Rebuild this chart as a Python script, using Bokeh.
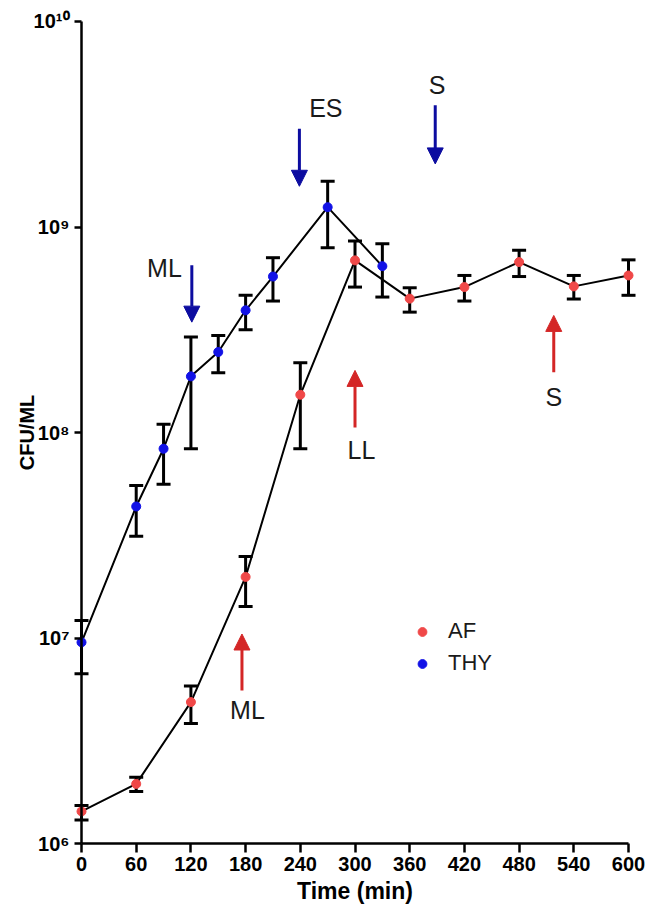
from bokeh.plotting import figure
from bokeh.models import (ColumnDataSource, Whisker, TeeHead, Arrow, NormalHead,
                          FixedTicker, Range1d, Legend, LegendItem, CustomJSTickFormatter)
from bokeh.core.properties import value
from bokeh.embed import file_html
from bokeh.resources import INLINE

# ---------------- data ----------------
time_thy = [0, 60, 90, 120, 150, 180, 210, 270, 330]
cfu_thy = [9.57e6, 4.38e7, 8.36e7, 1.88e8, 2.47e8, 3.94e8, 5.75e8, 1.25e9, 6.46e8]
upper_thy = [1.22e7, 5.54e7, 1.10e8, 2.92e8, 2.97e8, 4.66e8, 7.10e8, 1.67e9, 8.30e8]
lower_thy = [6.73e6, 3.14e7, 5.61e7, 8.36e7, 1.96e8, 3.17e8, 4.37e8, 7.94e8, 4.57e8]

time_af = [0, 60, 120, 180, 240, 300, 360, 420, 480, 540, 600]
cfu_af = [1.44e6, 1.96e6, 4.90e6, 1.99e7, 1.53e8, 6.89e8, 4.49e8, 5.11e8, 6.76e8, 5.15e8, 5.82e8]
upper_af = [1.54e6, 2.11e6, 5.86e6, 2.50e7, 2.19e8, 8.55e8, 5.07e8, 5.82e8, 7.71e8, 5.82e8, 6.93e8]
lower_af = [1.31e6, 1.80e6, 3.85e6, 1.43e7, 8.36e7, 5.11e8, 3.86e8, 4.37e8, 5.75e8, 4.47e8, 4.66e8]

x_ticks = [0, 60, 120, 180, 240, 300, 360, 420, 480, 540, 600]
y_ticks = [1e6, 1e7, 1e8, 1e9, 1e10]
y_tick_labels = ["10\u2076", "10\u2077", "10\u2078", "10\u2079", "10\u00b9\u2070"]

# growth-phase markers
thy_phase_names = ["ML", "ES", "S"]
thy_phase_time = [121, 239, 388]
af_phase_names = ["ML", "LL", "S"]
af_phase_time = [176, 300, 518]

# annotation geometry (arrow tails/tips and label anchors in data units)
thy_arrow_from = [6.52e8, 3.01e9, 3.91e9]
thy_arrow_to = [3.45e8, 1.58e9, 2.03e9]
thy_label_x = [91, 268, 390]
thy_label_y = [6.3e8, 3.78e9, 4.89e9]
af_arrow_from = [5.58e6, 1.06e8, 1.97e8]
af_arrow_to = [1.05e7, 2.01e8, 3.72e8]
af_label_x = [182, 307, 518]
af_label_y = [4.5e6, 8.2e7, 1.49e8]

RED = "#f04848"
BLUE = "#1212e6"
RED_ARROW = "#d42626"
BLUE_ARROW = "#0c0ca0"
FONT = "Liberation Sans"

# frame covers almost the whole canvas; both axes are pinned to t=0 / 1e6
p = figure(width=658, height=908, y_axis_type="log",
           x_range=Range1d(-75.7, 632.9), y_range=Range1d(10 ** 5.696, 10 ** 10.0632),
           output_backend="svg", toolbar_location=None,
           min_border_left=12, min_border_right=0,
           min_border_top=8, min_border_bottom=2)
p.grid.visible = False
p.outline_line_color = None
p.background_fill_color = "white"
p.border_fill_color = "white"

# axes
p.xaxis.ticker = FixedTicker(ticks=x_ticks)
p.xaxis.bounds = (0, 600)
p.xaxis.fixed_location = 1e6
p.yaxis.ticker = FixedTicker(ticks=y_ticks)
p.yaxis.bounds = (1e6, 1e10)
p.yaxis.fixed_location = 0
p.yaxis.formatter = CustomJSTickFormatter(
    args=dict(tick_values=y_ticks, tick_texts=y_tick_labels),
    code="""
for (let i = 0; i < tick_values.length; i++) {
  if (Math.abs(Math.log10(tick) - Math.log10(tick_values[i])) < 1e-6) { return tick_texts[i]; }
}
return "";
""")

for ax in (p.xaxis, p.yaxis):
    ax.axis_line_width = 2.5
    ax.axis_line_color = "black"
    ax.major_tick_line_width = 2.5
    ax.major_tick_line_color = "black"
    ax.major_tick_in = 0
    ax.minor_tick_line_color = None
    ax.major_label_text_font = FONT
    ax.major_label_text_font_style = "bold"
    ax.major_label_text_font_size = "20px"
    ax.major_label_text_color = "black"
    ax.axis_label_text_font = FONT
    ax.axis_label_text_font_style = "bold"
    ax.axis_label_text_color = "black"

p.xaxis.major_tick_out = 9
p.xaxis.major_label_standoff = 4
p.xaxis.axis_label = "Time (min)"
p.xaxis.axis_label_text_font_size = "23px"
p.xaxis.axis_label_standoff = 4

p.yaxis.major_tick_out = 7
p.yaxis.major_label_standoff = 5
p.yaxis.axis_label = "CFU/ML"
p.yaxis.axis_label_text_font_size = "20px"
p.yaxis.axis_label_standoff = -7

src_thy = ColumnDataSource(dict(x=time_thy, y=cfu_thy, upper=upper_thy, lower=lower_thy))
src_af = ColumnDataSource(dict(x=time_af, y=cfu_af, upper=upper_af, lower=lower_af))

for src in (src_thy, src_af):
    w = Whisker(base="x", upper="upper", lower="lower", source=src, dimension="height",
                line_width=3, line_color="black",
                upper_head=TeeHead(size=14, line_width=3, line_color="black"),
                lower_head=TeeHead(size=14, line_width=3, line_color="black"))
    p.add_layout(w)

p.line("x", "y", source=src_thy, line_color="black", line_width=2)
p.line("x", "y", source=src_af, line_color="black", line_width=2)
r_thy = p.scatter("x", "y", source=src_thy, size=9, fill_color=BLUE, line_color=BLUE)
r_af = p.scatter("x", "y", source=src_af, size=9, fill_color=RED, line_color=RED)

# phase arrows
for xs, y0s, y1s, col in ((thy_phase_time, thy_arrow_from, thy_arrow_to, BLUE_ARROW),
                          (af_phase_time, af_arrow_from, af_arrow_to, RED_ARROW)):
    for x, y0, y1 in zip(xs, y0s, y1s):
        p.add_layout(Arrow(x_start=x, y_start=y0, x_end=x, y_end=y1,
                           line_color=col, line_width=3,
                           end=NormalHead(size=16, fill_color=col, line_color=col, line_width=1)))

lab_src = ColumnDataSource(dict(x=thy_label_x + af_label_x,
                                y=thy_label_y + af_label_y,
                                t=thy_phase_names + af_phase_names))
p.text("x", "y", text="t", source=lab_src, text_font=value(FONT), text_font_size="25px",
       text_align="center", text_baseline="middle", text_color="#1a1a1a")

legend = Legend(items=[LegendItem(label="AF", renderers=[r_af]),
                       LegendItem(label="THY", renderers=[r_thy])],
                location=(399, 230), orientation="vertical",
                glyph_width=22, glyph_height=25, label_standoff=15, spacing=6,
                padding=0, margin=0, border_line_color=None, background_fill_alpha=0,
                label_text_font=FONT, label_text_font_size="22px", label_text_color="#1a1a1a")
p.add_layout(legend)

open("out.html", "w").write(file_html(p, INLINE))
